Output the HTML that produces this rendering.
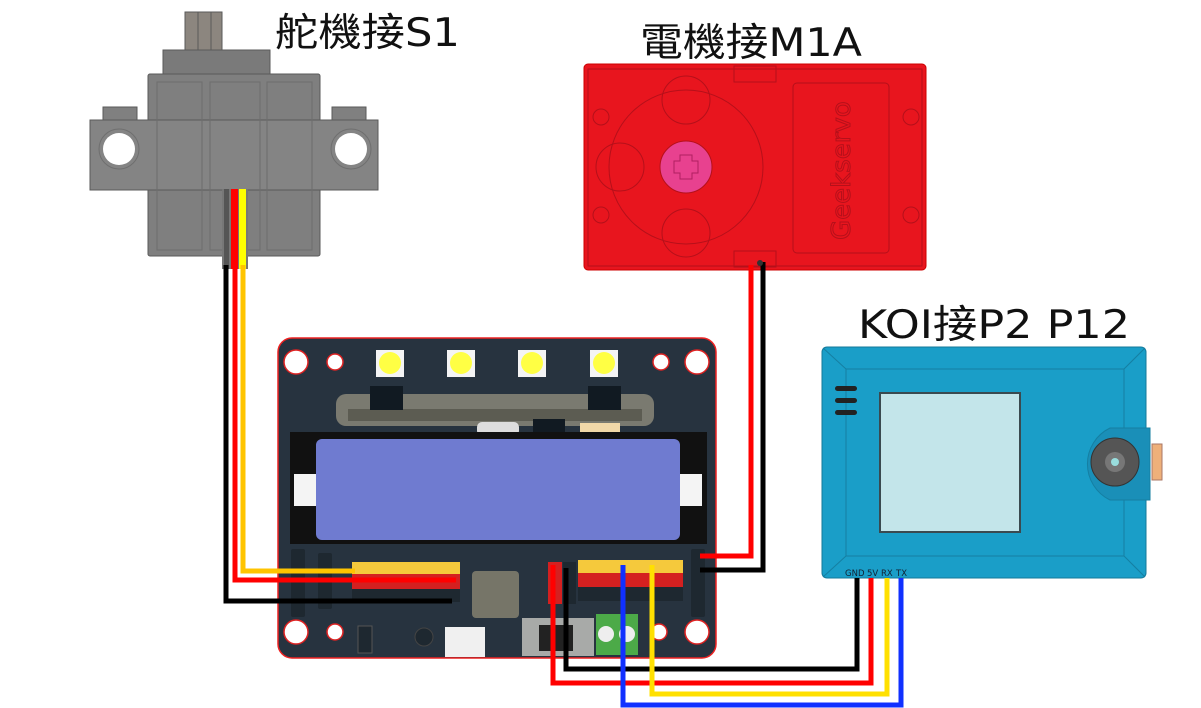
<!DOCTYPE html>
<html><head><meta charset="utf-8"><style>
html,body{margin:0;padding:0;background:#fff;}
svg{display:block;}
text{font-family:"DejaVu Sans","Liberation Sans","Noto Sans CJK TC",sans-serif;}
</style></head><body>
<svg width="1201" height="708" viewBox="0 0 1201 708" xmlns="http://www.w3.org/2000/svg">
<!-- Titles -->
<text x="275" y="46" font-size="39" fill="#111" textLength="185" lengthAdjust="spacingAndGlyphs">舵機接S1</text>
<text x="640" y="56" font-size="39" fill="#111" textLength="222" lengthAdjust="spacingAndGlyphs">電機接M1A</text>
<text x="858" y="338" font-size="39" fill="#111" textLength="272" lengthAdjust="spacingAndGlyphs">KOI接P2 P12</text>

<!-- Servo -->
<g stroke="#5a5a5a" stroke-width="1">
<rect x="185" y="12" width="37" height="40" fill="#8c867f"/>
<line x1="198" y1="12" x2="198" y2="52"/><line x1="211" y1="12" x2="211" y2="52"/>
<rect x="163" y="50" width="107" height="25" fill="#7a7a7a"/>
<rect x="148" y="74" width="172" height="182" fill="#7f7f7f" rx="2"/>
<rect x="103" y="107" width="34" height="14" fill="#808080"/>
<rect x="332" y="107" width="34" height="14" fill="#808080"/>
<rect x="90" y="120" width="288" height="70" fill="#848484"/>
</g>
<g stroke="#6d6d6d" fill="none" stroke-width="1">
<rect x="157" y="82" width="45" height="168"/><rect x="210" y="82" width="50" height="168"/><rect x="267" y="82" width="45" height="168"/>
</g>
<circle cx="119" cy="149" r="20" fill="none" stroke="#6f6f6f"/>
<circle cx="119" cy="149" r="16" fill="#fff"/>
<circle cx="351" cy="149" r="20" fill="none" stroke="#6f6f6f"/>
<circle cx="351" cy="149" r="16" fill="#fff"/>
<rect x="222" y="189" width="26" height="80" fill="#777"/>
<rect x="224" y="189" width="5" height="80" fill="#555"/>
<rect x="231" y="189" width="7" height="80" fill="#f00"/>
<rect x="239" y="189" width="7" height="80" fill="#ff0"/>

<!-- Motor -->
<rect x="584" y="64" width="342" height="206" rx="4" fill="#e8151e" stroke="#c00" />
<g fill="none" stroke="#b5101a" stroke-width="1">
<rect x="588" y="69" width="334" height="197"/>
<circle cx="686" cy="167" r="77"/>
<circle cx="686" cy="100" r="24"/><circle cx="686" cy="233" r="24"/><circle cx="620" cy="167" r="24"/>
<rect x="793" y="83" width="96" height="170" rx="4"/>
<rect x="734" y="66" width="42" height="16"/><rect x="734" y="251" width="42" height="16"/>
<circle cx="601" cy="117" r="8"/><circle cx="601" cy="215" r="8"/><circle cx="911" cy="117" r="8"/><circle cx="911" cy="215" r="8"/>
</g>
<circle cx="686" cy="167" r="26" fill="#e8418f" stroke="#b5101a"/>
<path d="M680 155h12v6h6v12h-6v6h-12v-6h-6v-12h6z" fill="none" stroke="#b02060"/>
<text x="0" y="0" font-size="26" fill="none" stroke="#b5101a" transform="translate(850,240) rotate(-90)">Geekservo</text>

<!-- Board -->
<rect x="278" y="338" width="438" height="320" rx="14" fill="#27333f" stroke="#e22" stroke-width="1.5"/>
<g fill="#fff" stroke="#d22" stroke-width="1.5">
<circle cx="296" cy="362" r="12"/><circle cx="697" cy="362" r="12"/><circle cx="296" cy="632" r="12"/><circle cx="697" cy="632" r="12"/>
<circle cx="335" cy="362" r="8"/><circle cx="661" cy="362" r="8"/><circle cx="335" cy="632" r="8"/><circle cx="659" cy="632" r="8"/>
</g>
<g>
<rect x="376" y="350" width="28" height="27" fill="#f4f4f4"/><circle cx="390" cy="363" r="11" fill="#ff4"/>
<rect x="447" y="350" width="28" height="27" fill="#f4f4f4"/><circle cx="461" cy="363" r="11" fill="#ff4"/>
<rect x="518" y="350" width="28" height="27" fill="#f4f4f4"/><circle cx="532" cy="363" r="11" fill="#ff4"/>
<rect x="590" y="350" width="28" height="27" fill="#f4f4f4"/><circle cx="604" cy="363" r="11" fill="#ff4"/>
</g>
<rect x="336" y="394" width="318" height="32" rx="10" fill="#7a7a70"/>
<rect x="348" y="409" width="294" height="12" fill="#5c5c52"/>
<rect x="370" y="386" width="33" height="24" fill="#111a22"/>
<rect x="588" y="386" width="33" height="24" fill="#111a22"/>
<rect x="477" y="422" width="42" height="14" rx="5" fill="#ddd"/>
<rect x="533" y="419" width="32" height="28" fill="#111a22"/>
<rect x="580" y="423" width="40" height="26" fill="#f1d8a8"/>
<rect x="290" y="432" width="417" height="112" fill="#111"/>
<rect x="294" y="474" width="22" height="32" fill="#f4f4f4"/>
<rect x="680" y="474" width="22" height="32" fill="#f4f4f4"/>
<rect x="316" y="439" width="364" height="101" rx="6" fill="#6f7bd0"/>
<!-- left headers -->
<rect x="291" y="549" width="14" height="68" rx="2" fill="#1e2830"/>
<rect x="318" y="553" width="14" height="56" rx="2" fill="#1e2830"/>
<rect x="352" y="562" width="108" height="12" fill="#f5c93c"/>
<rect x="352" y="574" width="108" height="15" fill="#d42020"/>
<rect x="352" y="589" width="108" height="13" fill="#1e2830"/>
<rect x="472" y="571" width="47" height="47" rx="4" fill="#767568"/>
<rect x="445" y="627" width="40" height="30" fill="#f0f0f0"/>
<rect x="358" y="626" width="14" height="27" fill="#1e2830" stroke="#555"/>
<circle cx="424" cy="637" r="9" fill="#1e2830" stroke="#444"/>
<!-- right headers -->
<rect x="548" y="562" width="14" height="42" fill="#d42020"/>
<rect x="563" y="562" width="13" height="42" fill="#1e2830"/>
<rect x="578" y="560" width="105" height="13" fill="#f5c93c"/>
<rect x="578" y="573" width="105" height="14" fill="#d42020"/>
<rect x="578" y="587" width="105" height="14" fill="#1e2830"/>
<rect x="691" y="549" width="14" height="68" rx="2" fill="#1e2830"/>
<rect x="522" y="618" width="72" height="38" fill="#a8aaa8"/>
<rect x="539" y="625" width="34" height="26" fill="#222"/>
<rect x="596" y="614" width="42" height="41" fill="#4caa48"/>
<circle cx="606" cy="634" r="8" fill="#eee"/><circle cx="627" cy="634" r="8" fill="#eee"/>

<!-- KOI -->
<rect x="822" y="347" width="324" height="231" rx="5" fill="#1a9ec8" stroke="#14799a"/>
<g stroke="#157fa2" fill="none">
<rect x="846" y="369" width="278" height="187"/>
<line x1="823" y1="348" x2="846" y2="369"/><line x1="1145" y1="348" x2="1124" y2="369"/>
<line x1="823" y1="577" x2="846" y2="556"/><line x1="1145" y1="577" x2="1124" y2="556"/>
</g>
<rect x="880" y="393" width="140" height="139" fill="#c3e5ea" stroke="#3a4a50" stroke-width="2"/>
<rect x="835" y="386" width="22" height="5" rx="2.5" fill="#222"/>
<rect x="835" y="398" width="22" height="5" rx="2.5" fill="#222"/>
<rect x="835" y="410" width="22" height="5" rx="2.5" fill="#222"/>
<path d="M1150 428 H1110 A40 40 0 0 0 1110 500 H1150 Z" fill="#1a8fb8" stroke="#157fa2"/>
<circle cx="1115" cy="462" r="24" fill="#555" stroke="#333"/>
<circle cx="1115" cy="462" r="10" fill="#777"/>
<circle cx="1115" cy="462" r="4" fill="#9dd"/>
<rect x="1152" y="444" width="10" height="36" fill="#eeb07a" stroke="#a76"/>
<text x="845" y="576" font-size="8.5" fill="#123">GND</text>
<text x="867" y="576" font-size="8.5" fill="#123">5V</text>
<text x="881" y="576" font-size="8.5" fill="#123">RX</text>
<text x="896" y="576" font-size="8.5" fill="#123">TX</text>

<!-- Wires -->
<g fill="none" stroke-width="5" stroke-linejoin="miter">
<polyline points="226,265 226,601 452,601" stroke="#000"/>
<polyline points="235,265 235,580 456,580" stroke="#f00"/>
<polyline points="243,265 243,571 355,571" stroke="#ffc400"/>
<polyline points="751,265 751,556 700,556" stroke="#f00"/>
<polyline points="763,262 763,570 700,570" stroke="#000"/>
<polyline points="566,568 566,669 857,669 857,578" stroke="#000"/>
<polyline points="553,565 553,683 871,683 871,578" stroke="#f00"/>
<polyline points="652,565 652,694 887,694 887,578" stroke="#ffe000"/>
<polyline points="623,565 623,705 901,705 901,578" stroke="#1030ff"/>
</g>
<circle cx="760" cy="263" r="3" fill="#333"/>
</svg>
</body></html>
